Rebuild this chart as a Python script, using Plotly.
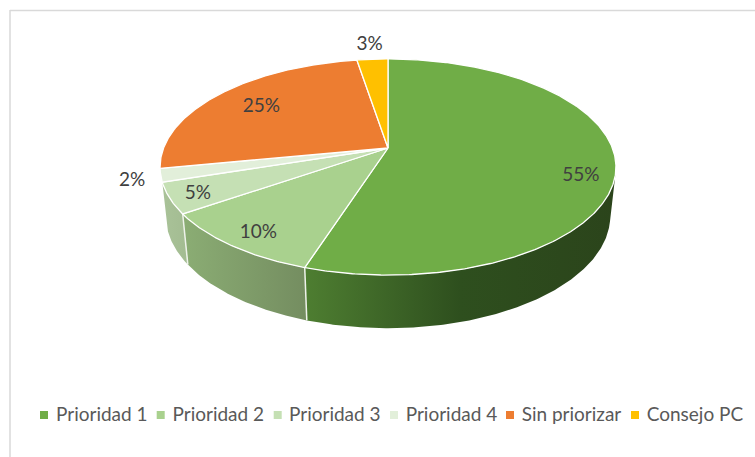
import math
import plotly.graph_objects as go

# ---- data ----
categories = ["Prioridad 1", "Prioridad 2", "Prioridad 3", "Prioridad 4", "Sin priorizar", "Consejo PC"]
values = [55.0, 10.4, 4.6, 2.0, 25.4, 2.6]

# ---- style ----
colors = ["#70ad47", "#a9d18e", "#c5e0b4", "#e2efda", "#ed7d31", "#ffc000"]
wall_scales = {
    0: [[0, "#4e7e31"], [0.5, "#2e4f1e"], [1, "#2b441b"]],
    1: [[0, "#8bad74"], [1, "#748d60"]],
    2: [[0, "#a9c298"], [1, "#a3bc92"]],
}

# ---- layout of the drawing (pixels of the 755x457 page) ----
W, H = 755, 457
CX = 388
TOP_APEX_Y = 148
BOT_APEX_Y = 196
BOT_SCALE_X = 0.975
BOT_SCALE_Y = 1.04
RX, RY, K = 224.4, 104.7, 0.176
WALL_START = 103  # degrees; the wall emerges from beneath the rim here
label_radii = [0.85, 0.85, 0.88, 1.12, 0.74, 1.22]
label_dy = [14, 4, 2, 3, 1, 2]
legend_mark_x = [44, 160.7, 277.7, 394, 510, 635]
legend_text_x = [56, 172.5, 289, 405.7, 521.7, 646.7]
LEGEND_Y = 415
FONT = "Lato"


def project(deg, r=1.0, apex=TOP_APEX_Y, sx=1.0, sy=1.0):
    t = math.radians(deg)
    X, Y = r * math.sin(t), r * math.cos(t)
    d = 1 + K * Y
    return CX + sx * RX * X / d, apex - sy * RY * Y / d


def arc(a0, a1, **kw):
    n = max(2, int(abs(a1 - a0) * 2) + 1)
    pts = [project(a0 + (a1 - a0) * i / (n - 1), **kw) for i in range(n)]
    return [p[0] for p in pts], [p[1] for p in pts]


BOTTOM = dict(apex=BOT_APEX_Y, sx=BOT_SCALE_X, sy=BOT_SCALE_Y)

total = sum(values)
edges = [0.0]
for v in values:
    edges.append(edges[-1] + v / total * 360)

fig = go.Figure()

# side walls: front-facing slices only
for i, sc in wall_scales.items():
    a0 = max(edges[i], WALL_START)
    a1 = edges[i + 1]
    xt, yt = arc(a0, a1)
    xb, yb = arc(a1, a0, **BOTTOM)
    fig.add_trace(go.Scatter(
        x=xt + xb + xt[:1], y=yt + yb + yt[:1], mode="lines", fill="toself",
        line=dict(width=0, color="rgba(0,0,0,0)"),
        fillgradient=dict(type="horizontal", colorscale=sc),
        hoverinfo="skip", showlegend=False))

# white joints between walls
for i in (1, 2):
    x0, y0 = project(edges[i])
    x1, y1 = project(edges[i], **BOTTOM)
    fig.add_trace(go.Scatter(x=[x0, x1], y=[y0, y1], mode="lines",
                             line=dict(color="#eef2ea", width=1.5),
                             hoverinfo="skip", showlegend=False))

# top face
for i, name in enumerate(categories):
    xs, ys = arc(edges[i], edges[i + 1])
    ax, ay = project(0, r=0)
    fig.add_trace(go.Scatter(
        x=[ax] + xs + [ax], y=[ay] + ys + [ay], mode="lines", fill="toself",
        fillcolor=colors[i], line=dict(color="white", width=1.3),
        name=name, text=[f"{values[i]:.0f}%"] * (len(xs) + 2),
        hoverinfo="name+text", showlegend=False))

# percentage labels
lx, ly, lt = [], [], []
for i, v in enumerate(values):
    x, y = project((edges[i] + edges[i + 1]) / 2, r=label_radii[i])
    lx.append(x)
    ly.append(y + label_dy[i])
    lt.append(f"{v:.0f}%")
fig.add_trace(go.Scatter(x=lx, y=ly, mode="text", text=lt, textposition="middle center",
                         textfont=dict(family=FONT, size=19, color="#404040"),
                         hoverinfo="skip", showlegend=False))

# legend
fig.add_trace(go.Scatter(x=legend_mark_x, y=[LEGEND_Y] * 6, mode="markers",
                         marker=dict(symbol="square", size=8, color=colors, line=dict(width=0)),
                         hoverinfo="skip", showlegend=False))
fig.add_trace(go.Scatter(x=legend_text_x, y=[LEGEND_Y + 1] * 6, mode="text", text=categories,
                         textposition="middle right",
                         textfont=dict(family=FONT, size=19, color="#595959"),
                         hoverinfo="skip", showlegend=False))

fig.update_layout(
    width=W, height=H, margin=dict(l=0, r=0, t=0, b=0),
    paper_bgcolor="white", plot_bgcolor="white", showlegend=False,
    xaxis=dict(range=[0, W], visible=False, fixedrange=True),
    yaxis=dict(range=[H, 0], visible=False, fixedrange=True),
    shapes=[
        dict(type="line", x0=10, x1=10, y0=10, y1=H, line=dict(color="#d9d9d9", width=1.5)),
        dict(type="line", x0=10, x1=W, y0=10.5, y1=10.5, line=dict(color="#d9d9d9", width=1.5)),
    ],
)

fig.write_html("out.html", config={"displayModeBar": False},
               post_script="document.body.style.margin='0';document.body.style.overflow='hidden';")
